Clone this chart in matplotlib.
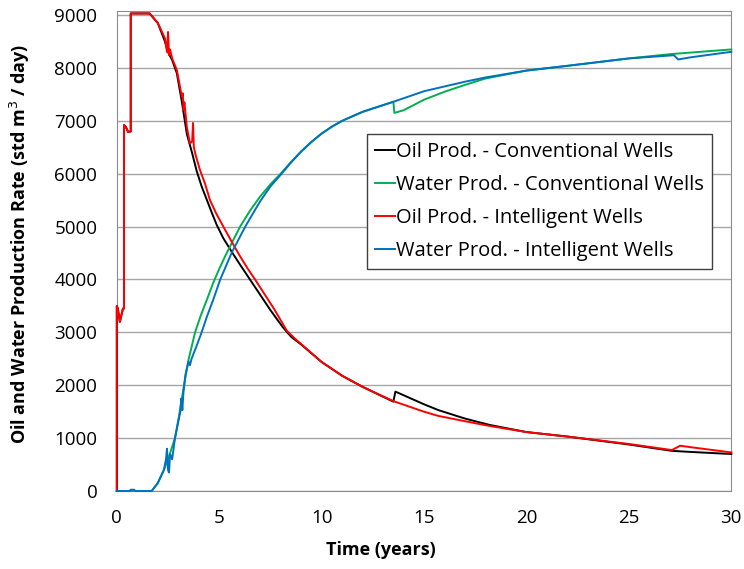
import matplotlib
matplotlib.use("Agg")
import matplotlib.pyplot as plt

plt.rcParams['font.family'] = ['Open Sans', 'DejaVu Sans']

# oil rate, conventional wells (std m3/day)
oil_conv_t = [0, 0, 0.05, 0.15, 0.3, 0.35, 0.35, 0.45, 0.55, 0.68, 0.68, 1.6, 2.0,
              2.35, 2.5, 2.7, 2.93, 3.18, 3.42, 3.67, 3.9, 4.15, 4.4, 4.65, 4.88,
              5.2, 5.6, 6.0, 6.5, 7.0, 7.5, 8.1, 8.5, 9, 10, 11, 12, 13.5, 13.6,
              15, 15.7, 17, 18.2, 20, 22, 25, 27.1, 28, 30]
oil_conv = [0, 3500, 3450, 3200, 3450, 3450, 6920, 6880, 6790, 6800, 9030, 9030, 8850,
            8500, 8300, 8150, 7900, 7350, 6750, 6400, 6050, 5750, 5500, 5250, 5030,
            4780, 4530, 4290, 4000, 3710, 3420, 3100, 2920, 2770, 2440, 2180, 1970, 1690, 1880,
            1640, 1530, 1370, 1250, 1115, 1030, 880, 760, 740, 700]

# water rate, conventional wells
wat_conv_t = [0, 1.7, 2.0, 2.3, 2.5, 2.84, 3.05, 3.28, 3.5, 3.82, 4.1, 4.39, 4.7,
              5.0, 5.3, 5.65, 6.02, 6.5, 7, 7.5, 8, 8.5, 9, 9.5, 10, 10.5, 11, 12,
              13.5, 13.55, 14, 15, 16, 17, 18, 20, 22, 25, 27, 28, 30]
wat_conv = [0, 0, 150, 400, 600, 1000, 1450, 2000, 2480, 3000, 3320, 3610, 3930,
            4200, 4450, 4720, 5000, 5300, 5570, 5800, 6000, 6220, 6420, 6600, 6760, 6890, 7000, 7170,
            7360, 7150, 7200, 7400, 7550, 7680, 7800, 7950, 8040, 8180, 8260, 8290, 8350]

# oil rate, intelligent wells
oil_int_t = [0, 0, 0.05, 0.15, 0.3, 0.35, 0.35, 0.45, 0.55, 0.68, 0.68, 1.6, 2.0,
             2.35, 2.45, 2.5, 2.55, 2.6, 2.7, 2.93, 3.18, 3.22, 3.26, 3.3, 3.42,
             3.57, 3.68, 3.72, 3.76, 3.85, 4.06, 4.3, 4.55, 4.85, 5.2, 5.6, 6.0,
             6.4, 6.75, 7.2, 7.7, 8.3, 8.7, 9, 10, 11, 12, 13.5, 15, 15.7, 17,
             18.2, 20, 22, 25, 27.1, 27.5, 28, 30]
oil_int = [0, 3500, 3450, 3200, 3450, 3450, 6920, 6880, 6790, 6800, 9030, 9030, 8850,
           8560, 8300, 8680, 8240, 8350, 8180, 7960, 7450, 7520, 7200, 7350, 6880,
           6570, 6620, 6960, 6500, 6350, 6070, 5820, 5500, 5250, 5000, 4720, 4450,
           4200, 4000, 3730, 3430, 3030, 2880, 2780, 2440, 2180, 1970, 1700, 1500, 1420, 1320,
           1230, 1115, 1030, 890, 775, 857, 830, 730]

# water rate, intelligent wells
wat_int_t = [0, 0.62, 0.68, 0.85, 0.9, 1.7, 2.0, 2.3, 2.4, 2.45, 2.5, 2.55, 2.6, 2.7,
             2.84, 3.1, 3.15, 3.2, 3.25, 3.35, 3.5, 3.57, 3.65, 3.9, 4.14, 4.4, 4.7,
             5.05, 5.6, 6.27, 7, 7.5, 8, 8.5, 9, 9.5, 10, 10.5, 11, 12, 13.5, 15,
             17, 18, 20, 22, 25, 27.2, 27.4, 28, 30]
wat_int = [0, 0, 25, 25, 0, 0, 150, 400, 600, 800, 400, 350, 700, 600,
           1000, 1500, 1750, 1530, 1850, 2200, 2450, 2380, 2500, 2750, 3000, 3300, 3610,
           4000, 4500, 5000, 5480, 5760, 5980, 6210, 6420, 6600, 6760, 6890, 7000, 7170, 7360, 7560,
           7740, 7820, 7950, 8040, 8180, 8240, 8160, 8200, 8305]

fig = plt.figure(figsize=(7.44, 5.69), dpi=100)
ax = fig.add_axes([0.157, 0.137, 0.826, 0.844])

ax.plot(oil_conv_t, oil_conv, color='black', lw=1.4, zorder=3, clip_on=False,
        label='Oil Prod. - Conventional Wells')
ax.plot(wat_conv_t, wat_conv, color='#00b050', lw=1.4, zorder=3, clip_on=False,
        label='Water Prod. - Conventional Wells')
ax.plot(oil_int_t, oil_int, color='#ff0000', lw=1.4, zorder=3, clip_on=False,
        label='Oil Prod. - Intelligent Wells')
ax.plot(wat_int_t, wat_int, color='#0070c0', lw=1.4, zorder=3, clip_on=False,
        label='Water Prod. - Intelligent Wells')

ax.set_xlim(0, 30)
ax.set_ylim(0, 9080)
ax.set_xticks(range(0, 31, 5))
ax.set_yticks(range(0, 9001, 1000))
ax.grid(axis='y', color='#a6a6a6', lw=1)
ax.set_axisbelow(True)
for s in ax.spines.values():
    s.set_color('#8c8c8c')
ax.tick_params(length=0, labelsize=13.5)
ax.tick_params(axis='y', pad=14)
ax.tick_params(axis='x', pad=13)

ax.set_xlabel('Time (years)', fontsize=13, fontweight='bold')
ax.set_ylabel('Oil and Water Production Rate (std m$^3$ / day)', fontsize=13,
              fontweight='bold')
ax.xaxis.set_label_coords(0.43, -0.105)
ax.yaxis.set_label_coords(-0.138, 0.515)

leg = ax.legend(loc='upper left', bbox_to_anchor=(0.407, 0.7435), fontsize=14.5,
                handlelength=1.0, handletextpad=0.05, borderaxespad=0, fancybox=False,
                framealpha=1, edgecolor='#404040', labelspacing=0.64, borderpad=0.4)
leg.get_frame().set_linewidth(1)
leg.set_zorder(5)

fig.savefig('out.png', dpi=100)
